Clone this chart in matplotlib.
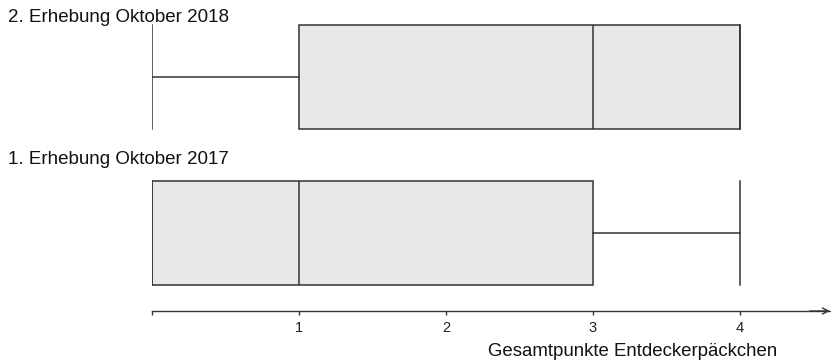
import matplotlib
matplotlib.use("Agg")
import matplotlib.pyplot as plt

plt.rcParams['font.family'] = ['Liberation Sans', 'DejaVu Sans']

# Data
groups = ["2. Erhebung Oktober 2018", "1. Erhebung Oktober 2017"]
whislo = [0, 0]
q1 = [1, 0]
med = [3, 1]
q3 = [4, 3]
whishi = [4, 4]
tick_values = [0, 1, 2, 3, 4]
tick_labels = ["", "1", "2", "3", "4"]
xlabel = "Gesamtpunkte Entdeckerpäckchen"

W, H = 831, 363
fig = plt.figure(figsize=(W / 100, H / 100), dpi=100)

left_px, right_px, bottom_px = 152, 830, 311
ax = fig.add_axes([left_px / W, (H - bottom_px) / H, (right_px - left_px) / W, bottom_px / H])
unit = (740 - 152) / 4.0
ax.set_xlim(0, (right_px - left_px) / unit)
ax.set_ylim(bottom_px, 0)

edge = "#333333"
face = "#e8e8e8"
stats = []
for i in range(len(groups)):
    stats.append(dict(whislo=whislo[i], q1=q1[i], med=med[i], q3=q3[i], whishi=whishi[i], fliers=[]))

centers = [77, 233]
bh = 104
ax.bxp(stats, positions=centers, widths=bh, capwidths=bh, orientation='horizontal',
       patch_artist=True, showfliers=False, manage_ticks=False,
       boxprops=dict(facecolor=face, edgecolor=edge, linewidth=1.1),
       medianprops=dict(color=edge, linewidth=1.1),
       whiskerprops=dict(color=edge, linewidth=1.1),
       capprops=dict(color=edge, linewidth=1.1))

for s in ["top", "right", "left"]:
    ax.spines[s].set_visible(False)
ax.spines["bottom"].set_color(edge)
ax.spines["bottom"].set_linewidth(1.0)
ax.set_yticks([])
ax.set_xticks(tick_values)
ax.set_xticklabels(tick_labels, fontsize=10.5, color="#222222")
ax.tick_params(axis='x', direction='out', length=3, width=1.0, color=edge, pad=4)

# arrow head
ax.annotate("", xy=(1.0, 0), xycoords='axes fraction', xytext=(0.97, 0),
            arrowprops=dict(arrowstyle='->', color=edge, lw=1.0, shrinkA=0, shrinkB=0,
                            mutation_scale=11), annotation_clip=False)

fig.text(8 / W, 1 - 17 / H, groups[0], fontsize=13.5, ha='left', va='center', color="#111111")
fig.text(8 / W, 1 - 160 / H, groups[1], fontsize=13.5, ha='left', va='center', color="#111111")
fig.text(633 / W, 1 - 352 / H, xlabel, fontsize=13.4, ha='center', va='center', color="#111111")

fig.savefig("out.png", dpi=100)
